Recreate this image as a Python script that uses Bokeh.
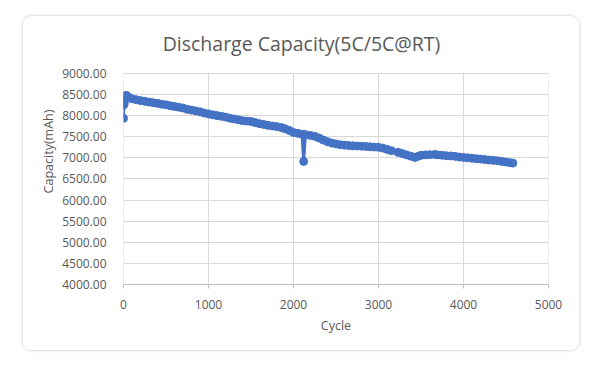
from bokeh.plotting import figure
from bokeh.models import ColumnDataSource, FixedTicker, NumeralTickFormatter, Label
from bokeh.embed import file_html
from bokeh.resources import INLINE

# Data
cycles = [0, 5, 10, 20, 30, 50, 100, 150, 200, 250, 300, 350, 400, 450, 500, 550,
          600, 650, 700, 750, 800, 850, 900, 950, 1000, 1050, 1100, 1150, 1200,
          1250, 1300, 1350, 1400, 1450, 1500, 1550, 1600, 1650, 1700, 1750, 1800,
          1855, 1900, 1950, 2000, 2050, 2100, 2120, 2140, 2200, 2250, 2300, 2350,
          2400, 2450, 2500, 2550, 2600, 2650, 2700, 2750, 2800, 2850, 2900, 2950,
          3000, 3050, 3100, 3150, 3230, 3280, 3330, 3380, 3430, 3470, 3500, 3550,
          3600, 3660, 3700, 3750, 3800, 3850, 3900, 3950, 4000, 4050, 4100, 4150,
          4200, 4250, 4300, 4350, 4400, 4450, 4500, 4550, 4580]
capacity = [7935, 8260, 8300, 8450, 8480, 8450, 8400, 8375, 8355, 8340, 8320, 8305,
            8290, 8270, 8255, 8235, 8215, 8200, 8180, 8150, 8130, 8110, 8090, 8060,
            8040, 8020, 8000, 7985, 7965, 7940, 7920, 7900, 7880, 7870, 7860, 7835,
            7810, 7790, 7770, 7755, 7740, 7720, 7690, 7650, 7600, 7580, 7560, 6915,
            7550, 7530, 7510, 7470, 7420, 7380, 7350, 7330, 7310, 7300, 7290, 7285,
            7280, 7275, 7270, 7260, 7255, 7250, 7230, 7200, 7170, 7130, 7100, 7070,
            7040, 7010, 7040, 7060, 7070, 7075, 7080, 7070, 7060, 7050, 7045, 7035,
            7020, 7010, 7000, 6990, 6980, 6970, 6960, 6950, 6940, 6930, 6915, 6900,
            6885, 6875]
x_ticks = [0, 1000, 2000, 3000, 4000, 5000]
y_ticks = [4000, 4500, 5000, 5500, 6000, 6500, 7000, 7500, 8000, 8500, 9000]

title_text = "Discharge Capacity(5C/5C@RT)"
x_label = "Cycle"
y_label = "Capacity(mAh)"

FONT = "Open Sans"
TXT = "#595959"
GRID = "#d9d9d9"
BLUE = "#4472C4"

src = ColumnDataSource(dict(x=cycles, y=capacity))
grid_src = ColumnDataSource(dict(x=x_ticks,
                                 y0=[y_ticks[0]] * len(x_ticks),
                                 y1=[y_ticks[-1]] * len(x_ticks)))

# frame extends above the value axis so the chart title can sit inside it
p = figure(width=558, height=336, output_backend="svg", toolbar_location=None,
           x_range=(0, 5000), y_range=(4000, 10300),
           min_border_left=100, min_border_right=33,
           min_border_top=2, min_border_bottom=68)
p.styles = {"border": "1px solid #e4e4e4", "border-radius": "10px",
            "box-shadow": "0 0 3px #e0e0e0", "overflow": "hidden",
            "margin-left": "22px", "margin-top": "15px"}
p.background_fill_color = "white"
p.border_fill_color = "white"
p.outline_line_color = None

# vertical grid lines, only across the value axis span
p.xgrid.visible = False
p.segment(x0="x", y0="y0", x1="x", y1="y1", source=grid_src,
          line_color=GRID, line_width=1)
p.ygrid.ticker = FixedTicker(ticks=y_ticks)
p.ygrid.grid_line_color = GRID

p.add_layout(Label(x=2094, y=9710, text=title_text, text_align="center",
                   text_baseline="alphabetic", text_font=FONT,
                   text_font_size="19.5px", text_color=TXT))

p.line("x", "y", source=src, line_color=BLUE, line_width=3)
p.scatter("x", "y", source=src, size=8, fill_color=BLUE, line_color=BLUE)

p.xaxis.ticker = FixedTicker(ticks=x_ticks)
p.yaxis.ticker = FixedTicker(ticks=y_ticks)
p.yaxis.formatter = NumeralTickFormatter(format="0.00")

for ax in (p.xaxis[0], p.yaxis[0]):
    ax.major_label_text_font = FONT
    ax.major_label_text_font_size = "12px"
    ax.major_label_text_color = TXT
    ax.axis_label_text_font = FONT
    ax.axis_label_text_font_size = "12.5px"
    ax.axis_label_text_font_style = "normal"
    ax.axis_label_text_color = TXT
    ax.minor_tick_line_color = None

p.xaxis.axis_label = x_label
p.yaxis.axis_label = y_label
p.xaxis.axis_line_color = "#bfbfbf"
p.xaxis.major_tick_line_color = "#bfbfbf"
p.xaxis.major_tick_in = 0
p.xaxis.major_tick_out = 4
p.xaxis.major_label_standoff = 11
p.xaxis.axis_label_standoff = 5
p.yaxis.axis_line_color = None
p.yaxis.major_tick_line_color = None
p.yaxis.major_label_standoff = 11
p.yaxis.axis_label_standoff = 2

open("out.html", "w").write(file_html(p, INLINE))
